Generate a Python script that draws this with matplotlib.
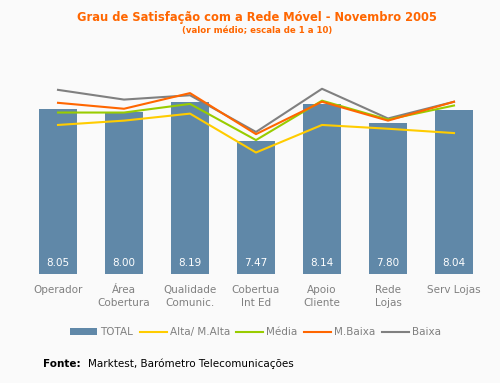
import matplotlib
matplotlib.use("Agg")
import matplotlib.pyplot as plt
from matplotlib.patches import Patch
from matplotlib.lines import Line2D

categories = ["Operador", "Área\nCobertura", "Qualidade\nComunic.", "Cobertua\nInt Ed",
              "Apoio\nCliente", "Rede\nLojas", "Serv Lojas"]
total = [8.05, 8.00, 8.19, 7.47, 8.14, 7.80, 8.04]
alta = [7.76, 7.84, 7.97, 7.25, 7.76, 7.69, 7.61]
media = [7.99, 7.99, 8.15, 7.48, 8.21, 7.86, 8.12]
mbaixa = [8.17, 8.06, 8.35, 7.59, 8.19, 7.84, 8.19]
baixa = [8.41, 8.23, 8.31, 7.63, 8.43, 7.88, 8.19]

bg = "#fafafa"
bar_c = "#6088a8"
c_alta = "#ffcc00"
c_media = "#99cc00"
c_mbaixa = "#ff6600"
c_baixa = "#808080"

fig = plt.figure(figsize=(5.0, 3.83), dpi=100, facecolor=bg)
ax = fig.add_axes([0.05, 1 - 274 / 383, 0.924, 216 / 383])
ax.set_facecolor(bg)
x = list(range(len(categories)))
ax.bar(x, [v - 5 for v in total], bottom=5, width=0.576, color=bar_c, zorder=1)
for xi, v in zip(x, total):
    ax.text(xi, 5.2, f"{v:.2f}", ha="center", va="center", color="white", fontsize=7.5, zorder=5)

ax.plot(x, alta, color=c_alta, lw=1.5, zorder=3)
ax.plot(x, media, color=c_media, lw=1.5, zorder=3)
ax.plot(x, mbaixa, color=c_mbaixa, lw=1.5, zorder=3)
ax.plot(x, baixa, color=c_baixa, lw=1.5, zorder=2)

ax.set_xlim(-0.5, 6.5)
ax.set_ylim(5, 9)
ax.set_yticks([])
ax.set_xticks(x)
ax.set_xticklabels(categories, fontsize=7.5, color="#808080", linespacing=1.35)
ax.tick_params(axis="x", length=0, pad=8)
for s in ax.spines.values():
    s.set_visible(False)

fig.text(0.514, 1 - 17 / 383, "Grau de Satisfação com a Rede Móvel - Novembro 2005",
         ha="center", va="center", color="#ff6600", fontsize=8.3, fontweight="bold")
fig.text(0.514, 1 - 31 / 383, "(valor médio; escala de 1 a 10)",
         ha="center", va="center", color="#ff6600", fontsize=6.2, fontweight="bold")

handles = [Patch(facecolor=bar_c, edgecolor="none"),
           Line2D([], [], color=c_alta, lw=1.5),
           Line2D([], [], color=c_media, lw=1.5),
           Line2D([], [], color=c_mbaixa, lw=1.5),
           Line2D([], [], color=c_baixa, lw=1.5)]
labels = ["TOTAL", "Alta/ M.Alta", "Média", "M.Baixa", "Baixa"]
leg = fig.legend(handles, labels, loc="center", bbox_to_anchor=(0.511, 1 - 332 / 383), ncol=5,
                 frameon=False, fontsize=7.5, handlelength=2.6, handleheight=0.6,
                 handletextpad=0.3, columnspacing=0.6, labelcolor="#808080")

fig.text(0.086, 1 - 364 / 383, "Fonte:", ha="left", va="center", fontsize=7.5, fontweight="bold", color="black")
fig.text(0.176, 1 - 364 / 383, "Marktest, Barómetro Telecomunicações", ha="left", va="center",
         fontsize=7.5, color="black")

fig.savefig("out.png", dpi=100, facecolor=bg)
